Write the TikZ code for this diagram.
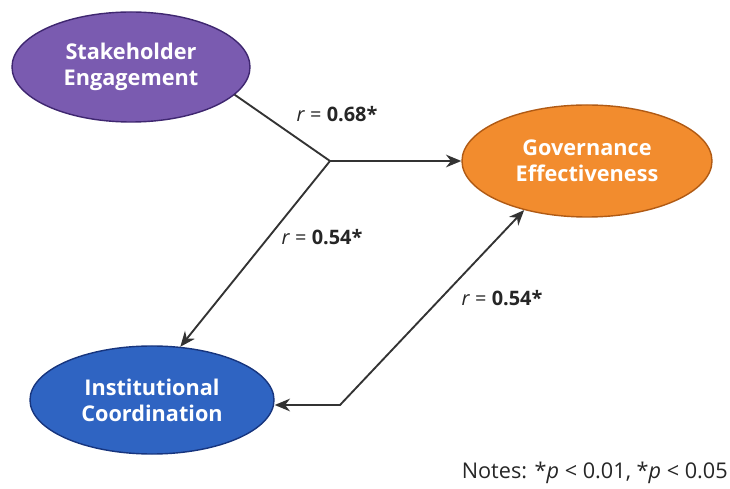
\documentclass[tikz,border=0pt]{standalone}
\usepackage{fontspec}
\setmainfont{Open Sans}
\usepackage{tikz}
\usetikzlibrary{arrows.meta,shapes.geometric}
\definecolor{stakefill}{HTML}{7A5BB0}
\definecolor{stakeline}{HTML}{3F2770}
\definecolor{govfill}{HTML}{F28C2E}
\definecolor{govline}{HTML}{B05A14}
\definecolor{instfill}{HTML}{2F64C2}
\definecolor{instline}{HTML}{17357E}
\tikzset{
  construct/.style={ellipse, draw, line width=1.2pt, text=white, align=center,
                    font=\fontsize{18.5}{22}\selectfont\bfseries},
  coef/.style={font=\fontsize{17}{20}\selectfont, text=black!85},
  arrow/.style={-{Stealth[length=4.6mm,width=3.8mm]}, line width=1.6pt, black!80},
}

\begin{document}
\begin{tikzpicture}[x=0.03cm, y=-0.03cm]
    \useasboundingbox (0,0) rectangle (730,489);

    % Constructs
    \node[construct, fill=stakefill, draw=stakeline, minimum width=7.14cm, minimum height=3.3cm] (stake) at (131,67) {Stakeholder\\Engagement};
    \node[construct, fill=govfill, draw=govline, minimum width=7.5cm, minimum height=3.36cm] (gov) at (587,161) {Governance\\Effectiveness};
    \node[construct, fill=instfill, draw=instline, minimum width=7.32cm, minimum height=3.24cm] (inst) at (152,400) {Institutional\\Coordination};

    % Bend points
    \coordinate (junc) at (330,161);
    \coordinate (bend) at (340,405);

    % Paths
    \draw[arrow, -] (stake.-15) -- (junc);
    \draw[arrow] (junc) -- (gov.west);
    \draw[arrow] (junc) -- (inst.62);
    \draw[arrow, {Stealth[length=4.6mm,width=3.8mm]}-{Stealth[length=4.6mm,width=3.8mm]}] (gov.218) -- (bend) -- (inst.east |- bend);

    % Coefficients
    \node[coef] (c1) at (337,114) {\textit{r} = \textbf{0.68*}};
    \node[coef] (c2) at (322,237) {\textit{r} = \textbf{0.54*}};
    \node[coef] (c3) at (502,298) {\textit{r} = \textbf{0.54*}};

    % Notes
    \node[font=\fontsize{18.5}{22}\selectfont, text=black!85, anchor=east, inner sep=0pt] (notes) at (728,473) {Notes: *\textit{p} < 0.01, *\textit{p} < 0.05};
\end{tikzpicture}
\end{document}
